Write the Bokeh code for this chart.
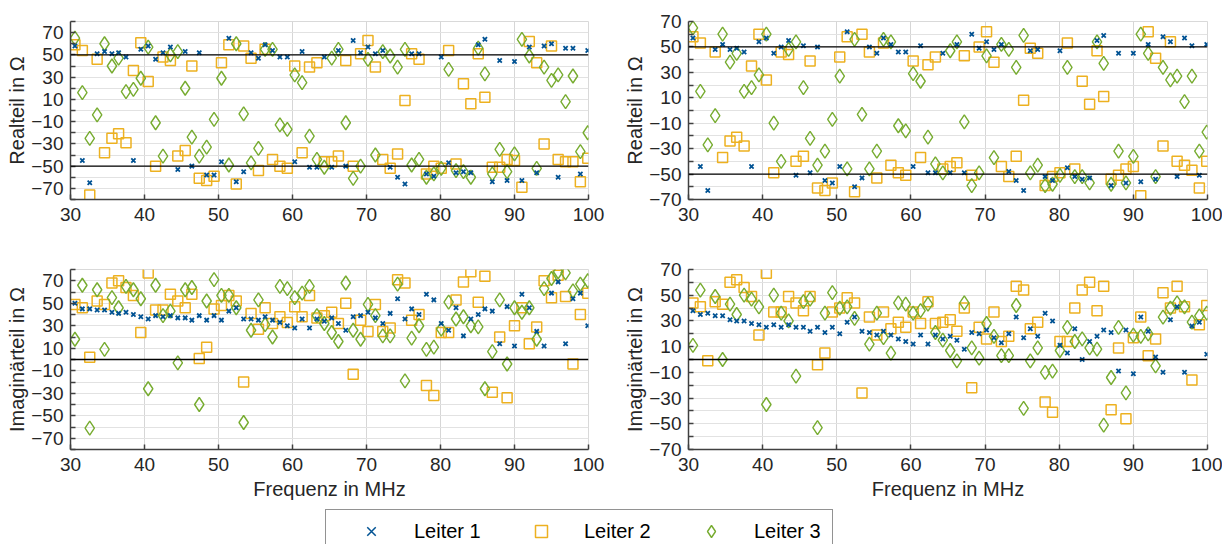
from bokeh.plotting import figure
from bokeh.models import FixedTicker, Span, Legend, LegendItem, Range1d
from bokeh.layouts import column, row
from bokeh.embed import file_html
from bokeh.resources import INLINE

# ---------------- data ----------------
freq = [30.6, 31.6, 32.6, 33.6, 34.6, 35.6, 36.5, 37.5, 38.5, 39.5,
        40.5, 41.5, 42.5, 43.5, 44.5, 45.5, 46.4, 47.4, 48.4, 49.4,
        50.4, 51.4, 52.4, 53.4, 54.4, 55.4, 56.3, 57.3, 58.3, 59.3,
        60.3, 61.3, 62.3, 63.3, 64.3, 65.3, 66.2, 67.2, 68.2, 69.2,
        70.2, 71.2, 72.2, 73.2, 74.2, 75.2, 76.1, 77.1, 78.1, 79.1,
        80.1, 81.1, 82.1, 83.1, 84.1, 85.1, 86.0, 87.0, 88.0, 89.0,
        90.0, 91.0, 92.0, 93.0, 94.0, 95.0, 95.9, 96.9, 97.9, 98.9,
        99.9]

# left column, real part
re_a_l1 = [58, -45, -65, 51, 53, 51, 52, 48, -45, 55, 58, 46, 52, 57, -53, 53, -50, 52, -58, -58,
           -46, 65, -64, -55, 52, 47, 59, 54, 48, 48, -46, 53, -51, -51, 48, -51, 54, -50, 63, 52,
           57, 51, 54, -51, -60, -66, 51, 51, -57, -59, 48, -47, -56, -55, -56, 59, 64, -64, 45, -63,
           44, -63, 57, -56, 58, 60, -60, 56, 56, -57, 54]
re_a_l2 = [59, 54, -76, 46, -38, -25, -21, -29, 36, 61, 26, -50, 48, 45, -41, -36, 40, -61, -63, -59,
           43, 59, -66, 58, 47, -54, 55, -44, -50, -52, 40, -38, 39, 43, -46, -46, -41, 45, -50, 51,
           63, 39, -44, -52, -39, 9, 51, 46, -57, -50, -52, 54, -48, 24, 6, 51, 12, -51, -51, -44,
           -45, -69, 62, 43, -30, 58, -44, -46, -46, -64, -43]
re_a_l3 = [65, 16, -25, -4, 60, 40, 47, 17, 19, 29, 57, -11, -41, 50, 53, 20, -24, -41, -33, -8,
           29, -49, 60, -3, -47, -34, 55, 55, -13, -17, 32, 25, -23, -44, -51, 47, 55, -11, -61, -50,
           46, -40, 53, 49, 39, 55, -49, -44, -60, -57, -52, 37, -54, -55, -60, 56, 33, -57, -35, -55,
           -39, 64, 49, -52, 39, 27, 32, 8, 31, -37, -20]

# left column, imaginary part
im_a_l1 = [50, 45, 45, 44, 44, 42, 41, 42, 40, 38, 36, 39, 38, 39, 37, 37, 35, 39, 35, 39,
           35, 43, 46, 36, 36, 35, 38, 35, 33, 30, 28, 36, 28, 36, 34, 37, 32, 26, 38, 39,
           42, 37, 32, 41, 54, 36, 45, 40, 58, 53, 32, 26, 46, 21, 36, 40, 45, 43, 14, 47,
           12, 58, 46, 25, 12, 59, 69, 14, 54, 59, 30]
im_a_l2 = [49, 46, 2, 52, 49, 68, 70, 64, 57, 24, 77, 44, 44, 58, 52, 46, 58, 1, 11, 45,
           48, 57, 52, -20, 41, 27, 46, 32, 38, 33, 47, 38, 57, 37, 39, 42, 32, 50, -13, 35,
           25, 49, 25, 28, 71, 68, 35, 40, -23, -32, 24, 24, 53, 69, 78, 51, 74, -29, 20, -34,
           30, 46, 14, 29, 70, 55, 75, 56, -4, 40, 59]
im_a_l3 = [18, 66, -61, 62, 9, 55, 46, 65, 62, 54, -26, 66, 39, 43, -3, 62, 64, -40, 52, 71,
           57, 57, 46, -56, 26, 53, 31, 20, 65, 63, 55, 59, 65, 39, 32, 24, 16, 68, 26, 18,
           49, 39, 21, 21, 67, -19, 19, 30, 9, 11, 27, 51, 36, 38, 30, 29, -26, 7, 53, -4,
           46, 42, 46, 18, 63, 72, 78, 77, 61, 67, 70]

# right column, real part
re_b_l1 = [57, -44, -63, 48, 52, 48, 49, 46, -44, 54, 57, 45, 50, 55, -51, 51, -49, 50, -55, -57,
           -44, 62, -60, -53, 50, 45, 57, 52, 46, 46, -44, 51, -49, -49, 45, -49, 52, -49, 60, 49,
           54, 48, 52, -48, -55, -63, 47, 48, -52, -55, 47, -45, -52, -54, -53, 55, 59, -59, 45, -57,
           45, -56, 52, -54, 58, 54, -52, 57, 51, -51, 52]
re_b_l2 = [58, 53, -78, 46, -37, -24, -21, -28, 35, 60, 24, -49, 46, 44, -40, -36, 39, -61, -63, -57,
           42, 58, -64, 60, 46, -53, 53, -43, -49, -51, 39, -37, 36, 42, -46, -44, -41, 43, -51, 50,
           62, 38, -44, -52, -36, 8, 49, 45, -59, -52, -49, 53, -46, 23, 5, 47, 11, -54, -51, -46,
           -44, -67, 62, 41, -28, 54, -40, -43, -47, -61, -40]
re_b_l3 = [65, 15, -27, -4, 60, 38, 45, 15, 18, 28, 60, -10, -40, 48, 54, 18, -22, -43, -32, -7,
           27, -46, 56, -3, -46, -32, 56, 54, -12, -16, 29, 23, -21, -42, -49, 47, 54, -9, -59, -49,
           43, -37, 52, 48, 34, 59, -49, -43, -59, -58, -51, 34, -52, -52, -57, 54, 37, -58, -32, -57,
           -36, 60, 45, -52, 34, 24, 27, 7, 27, -32, -17]

# right column, imaginary part
im_b_l1 = [38, 35, 36, 34, 34, 31, 30, 30, 28, 27, 25, 27, 25, 27, 25, 25, 22, 25, 21, 25,
           20, 29, 33, 22, 21, 19, 22, 19, 16, 14, 12, 19, 12, 19, 16, 18, 15, 8, 21, 20,
           23, 17, 13, 20, 33, 17, 24, 18, 36, 30, 11, 5, 24, 0, 14, 18, 23, 21, -9, 23,
           -11, 33, 22, 2, -10, 31, 41, -10, 26, 29, 4]
im_b_l2 = [44, 41, -1, 45, 43, 60, 62, 56, 49, 19, 67, 37, 37, 49, 44, 38, 49, -4, 5, 37,
           40, 48, 44, -26, 33, 19, 37, 24, 29, 25, 37, 28, 45, 28, 29, 31, 22, 40, -22, 25,
           16, 37, 14, 18, 57, 54, 24, 29, -33, -41, 14, 14, 40, 54, 60, 38, 57, -39, 9, -46,
           17, 33, 3, 16, 52, 40, 57, 41, -16, 27, 42]
im_b_l3 = [11, 54, -78, 49, 0, 43, 35, 50, 47, 41, -35, 50, 36, 30, -13, 45, 47, -53, 36, 52,
           40, 41, 32, -78, 12, 36, 17, 5, 44, 43, 36, 38, 43, 21, 15, 7, -1, 44, 9, 1,
           28, 18, 3, 3, 42, -38, -1, 9, -10, -9, 7, 25, 14, 16, 9, 8, -51, -14, 25, -26,
           19, 18, 20, -5, 33, 40, 44, 41, 29, 34, 36]

series_labels = ["Leiter 1", "Leiter 2", "Leiter 3"]
x_ticks = [30, 40, 50, 60, 70, 80, 90, 100]
y_ticks = [-70, -50, -30, -10, 10, 30, 50, 70]
y_minor_left = [-80, -60, -40, -20, 0, 20, 40, 60, 80]
y_minor_right = [-60, -40, -20, 0, 20, 40, 60]
ref_real = [50, -50]
ref_imag = [0]

# ---------------- style ----------------
FONT = "Liberation Sans"
TXT = "#262626"
C1, C2, C3 = "#005293", "#EDB120", "#77AC30"


def make_panel(y1, y2, y3, yr, minors, refs, ylabel, xlabel,
               width, height, bl, br, bt, bb):
    p = figure(width=width, height=height,
               x_range=Range1d(30, 100), y_range=Range1d(yr[0], yr[1]),
               toolbar_location=None, output_backend="svg",
               min_border_left=bl, min_border_right=br,
               min_border_top=bt, min_border_bottom=bb)
    p.background_fill_color = "white"
    p.border_fill_color = "white"
    p.outline_line_color = "#d9d9d9"
    p.outline_line_width = 1

    p.xaxis.ticker = FixedTicker(ticks=x_ticks)
    p.yaxis.ticker = FixedTicker(ticks=y_ticks, minor_ticks=minors)
    for ax in (p.xaxis, p.yaxis):
        ax.axis_line_color = "#404040"
        ax.axis_line_width = 1.5
        ax.major_tick_line_color = "#404040"
        ax.major_tick_line_width = 1.5
        ax.major_tick_in = 5
        ax.major_tick_out = 0
        ax.major_label_text_font = FONT
        ax.major_label_text_font_size = "19px"
        ax.major_label_text_color = TXT
        ax.axis_label_text_font = FONT
        ax.axis_label_text_font_size = "20px"
        ax.axis_label_text_font_style = "normal"
        ax.axis_label_text_color = TXT
    p.xaxis.minor_tick_line_color = None
    p.yaxis.minor_tick_line_color = "#404040"
    p.yaxis.minor_tick_line_width = 1.5
    p.yaxis.minor_tick_in = 5
    p.yaxis.minor_tick_out = 0
    p.xaxis.major_label_standoff = 8
    p.yaxis.major_label_standoff = 7
    p.yaxis.axis_label = ylabel
    p.yaxis.axis_label_standoff = 0
    if xlabel:
        p.xaxis.axis_label = xlabel
        p.xaxis.axis_label_standoff = 4

    p.xgrid.grid_line_color = "#d6d6d6"
    p.xgrid.grid_line_width = 1
    p.ygrid.grid_line_color = "#e2e2e2"
    p.ygrid.grid_line_width = 1
    p.ygrid.minor_grid_line_color = "#e2e2e2"
    p.ygrid.minor_grid_line_width = 1

    for v in refs:
        p.add_layout(Span(location=v, dimension="width",
                          line_color="black", line_width=1.3))

    p.scatter(freq, y2, marker="square", size=10, fill_color=None,
              line_color=C2, line_width=1.5)
    p.scatter(freq, y3, marker="diamond", size=14, fill_color=None,
              line_color=C3, line_width=1.4)
    p.scatter(freq, y1, marker="x", size=6, line_color=C1, line_width=1.8)
    return p


tl = make_panel(re_a_l1, re_a_l2, re_a_l3, (-80, 80), y_minor_left, ref_real,
                "Realteil in Ω", None, 608, 258, 70, 20, 21, 59)
tr = make_panel(re_b_l1, re_b_l2, re_b_l3, (-70, 70), y_minor_right, ref_real,
                "Realteil in Ω", None, 614, 258, 80, 15, 20, 59)
bl = make_panel(im_a_l1, im_a_l2, im_a_l3, (-80, 80), y_minor_left, ref_imag,
                "Imaginärteil in Ω", "Frequenz in MHz", 608, 251, 70, 20, 11, 60)
br = make_panel(im_b_l1, im_b_l2, im_b_l3, (-70, 70), y_minor_right, ref_imag,
                "Imaginärteil in Ω", "Frequenz in MHz", 614, 251, 80, 15, 10, 60)

# ---------------- legend ----------------
leg = figure(width=1222, height=35, x_range=(0, 1), y_range=(0, 1),
             toolbar_location=None, output_backend="svg",
             x_axis_location=None, y_axis_location=None, min_border=0)
leg.grid.visible = False
leg.outline_line_color = None
r1 = leg.scatter([-5], [-5], marker="x", size=6, line_color=C1, line_width=1.5)
r2 = leg.scatter([-5], [-5], marker="square", size=10, fill_color=None,
                 line_color=C2, line_width=1.5)
r3 = leg.scatter([-5], [-5], marker="diamond", size=14, fill_color=None,
                 line_color=C3, line_width=1.4)
legend = Legend(items=[LegendItem(label=series_labels[0], renderers=[r1]),
                       LegendItem(label=series_labels[1], renderers=[r2]),
                       LegendItem(label=series_labels[2], renderers=[r3])],
                orientation="horizontal", location=(325, -9),
                padding=6, margin=0, glyph_width=78, glyph_height=30,
                label_standoff=4, spacing=16, label_width=72, label_height=30,
                label_text_font=FONT, label_text_font_size="20px",
                label_text_color="black", label_text_baseline="middle",
                border_line_color="#262626", border_line_width=1,
                background_fill_color="white", background_fill_alpha=1)
leg.add_layout(legend)

layout = column(row(tl, tr), row(bl, br), leg)
open("out.html", "w").write(file_html(layout, INLINE))
